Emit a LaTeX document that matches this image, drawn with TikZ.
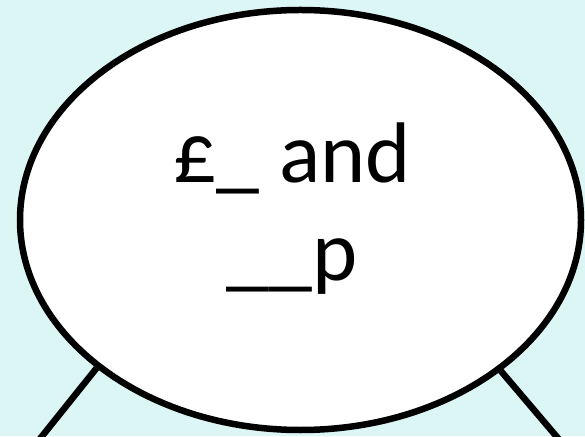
\documentclass[tikz,border=0pt]{standalone}
\usepackage{fontspec}
\setmainfont{Carlito}
\usetikzlibrary{shapes.geometric}
\definecolor{bg}{RGB}{220,246,246}
\tikzset{
  bubble/.style={draw=black, line width=6.5pt, ellipse, fill=white, minimum width=561pt, minimum height=420pt, inner sep=0pt},
  link/.style={draw=black, line width=6.5pt},
  label/.style={font=\fontsize{86}{98}\selectfont, anchor=base, inner sep=0pt}
}
\begin{document}
\begin{tikzpicture}[x=1pt,y=1pt]
\useasboundingbox (0,0) rectangle (585,436);
\clip (0,0) rectangle (585,436);
\fill[bg] (0,0) rectangle (585,436);
\coordinate (lend) at (31,-14);
\coordinate (rend) at (568,-14);
\node[bubble] (e) at (300.5,216) {};
\draw[link] (e.216.8) -- (lend);
\draw[link] (e.323) -- (rend);
\node[label] (t1) at (292,253) {£\_ and};
\node[label] (t2) at (292,155) {\_\_p};
\end{tikzpicture}
\end{document}
